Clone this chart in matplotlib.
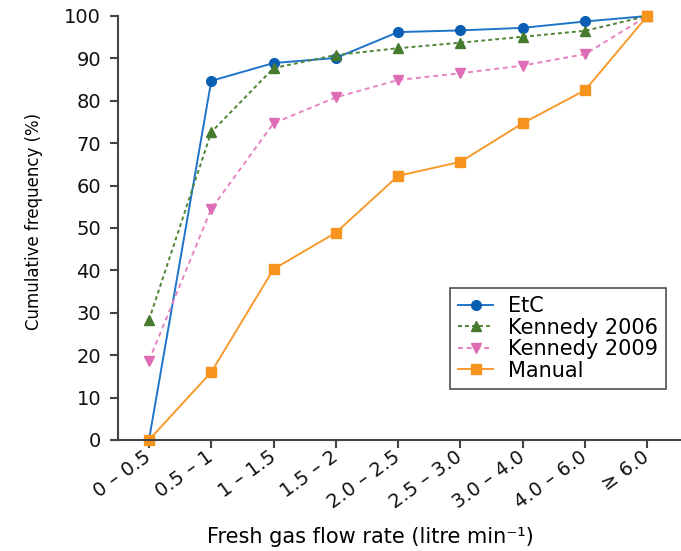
import matplotlib
matplotlib.use("Agg")
import matplotlib.pyplot as plt

categories = ["0 \u2013 0.5", "0.5 \u2013 1", "1 \u2013 1.5", "1.5 \u2013 2", "2.0 \u2013 2.5",
              "2.5 \u2013 3.0", "3.0 \u2013 4.0", "4.0 \u2013 6.0", "\u2265 6.0"]
etc = [0, 84.7, 88.9, 90.1, 96.2, 96.6, 97.2, 98.7, 100]
kennedy_2006 = [28.3, 72.6, 87.7, 90.8, 92.4, 93.7, 95.1, 96.5, 100]
kennedy_2009 = [18.7, 54.5, 74.7, 80.8, 84.9, 86.5, 88.3, 91.0, 100]
manual = [0, 16.0, 40.3, 48.9, 62.3, 65.6, 74.7, 82.5, 100]

plt.rcParams["font.family"] = ["DejaVu Sans"]
fig = plt.figure(figsize=(6.81, 5.51), dpi=100)
ax = fig.add_axes([0.173, 0.2015, 0.827, 0.7695])

x = range(len(categories))
series = [
    ("EtC", etc, "#1f74c8", "#0a5fb4", "o", "-"),
    ("Kennedy 2006", kennedy_2006, "#4f8636", "#467a2e", "^", (0, (2, 1.6))),
    ("Kennedy 2009", kennedy_2009, "#e883c2", "#de6db5", "v", (0, (2.5, 2))),
    ("Manual", manual, "#f89a2c", "#f7941d", "s", "-"),
]
for name, vals, lc, mc, mk, ls in series:
    ax.plot(x, vals, color=lc, linestyle=ls, linewidth=1.4, marker=mk,
            markersize=7, markerfacecolor=mc, markeredgecolor=mc,
            label=name, clip_on=False)

ax.set_xlim(-0.5, 8.54)
ax.set_ylim(0, 100)
ax.set_yticks(range(0, 101, 10))
ax.set_xticks(list(x))
ax.set_xticklabels(categories, rotation=36, ha="right", va="center",
                   rotation_mode="anchor", fontsize=14.5)
ax.tick_params(axis="both", labelsize=14, width=1.5, length=6,
               color="#444444", labelcolor="#111111")
ax.tick_params(axis="x", pad=5)
ax.tick_params(axis="y", pad=6)
for side in ("top", "right"):
    ax.spines[side].set_visible(False)
for side in ("left", "bottom"):
    ax.spines[side].set_linewidth(1.5)
    ax.spines[side].set_color("#444444")

ax.set_ylabel("Cumulative frequency (%)", fontsize=12)
ax.yaxis.set_label_coords(-0.133, 0.516)
ax.set_xlabel("Fresh gas flow rate (litre min\u207b\u00b9)", fontsize=15, va="center")
ax.xaxis.set_label_coords(0.448, -0.229)

leg = ax.legend(loc="upper left", bbox_to_anchor=(450 / 681, 1 - 288 / 551),
                bbox_transform=fig.transFigure, fontsize=15, frameon=True,
                fancybox=False, edgecolor="#222222", handlelength=1.65,
                handletextpad=0.72, labelspacing=0.07, borderpad=0.4,
                borderaxespad=0)
leg.get_frame().set_linewidth(1.2)

fig.savefig("out.png", dpi=100)
